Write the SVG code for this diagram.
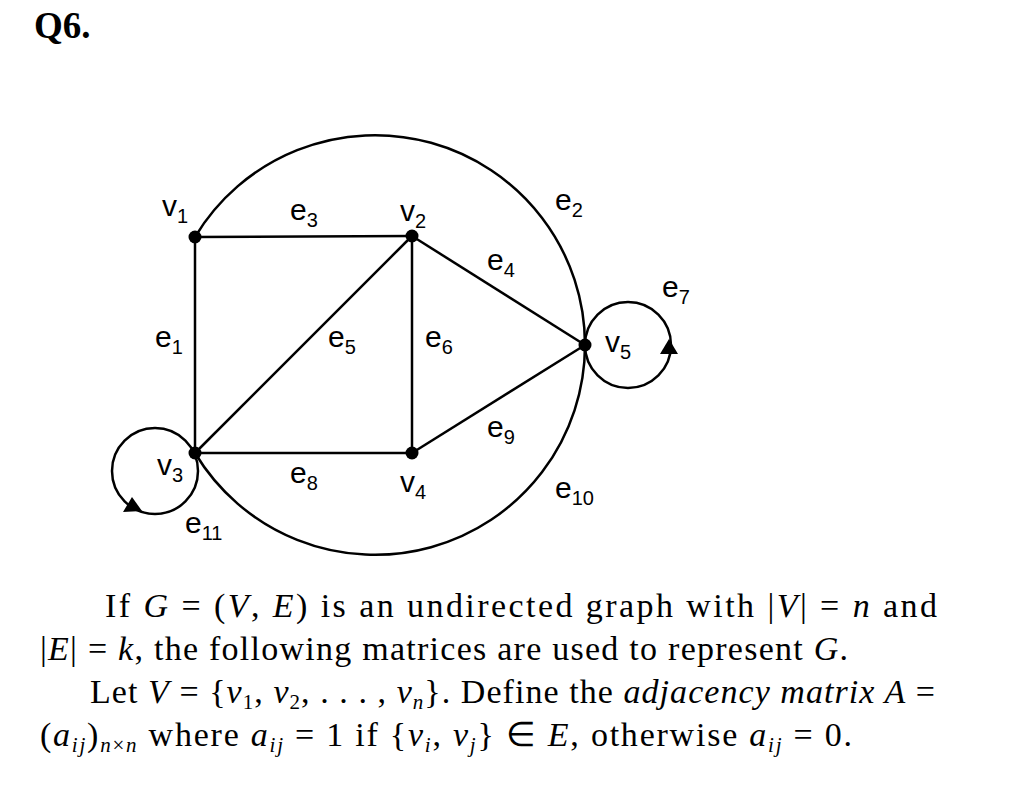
<svg xmlns="http://www.w3.org/2000/svg" width="1024" height="792" viewBox="0 0 1024 792">
<style>
.edge{fill:none;stroke:#000;stroke-width:2.5}
.node{fill:#000}
.lbl{font-family:"Liberation Sans",Arial,sans-serif;font-size:30px;fill:#000}
.sub{font-size:20px}
.para{font-family:"Liberation Serif","Times New Roman",serif;font-size:34px;fill:#000}
.it{font-style:italic}
.ps{font-size:21px}
.title{font-family:"Liberation Serif","Times New Roman",serif;font-size:37px;font-weight:bold;fill:#000}
</style>
<rect width="1024" height="792" fill="#fff"/>
<text class="title" x="34" y="38">Q6.</text>
<g id="connectors">
<line class="edge" x1="195" y1="237" x2="412" y2="236"/>
<line class="edge" x1="195" y1="237" x2="195" y2="453"/>
<line class="edge" x1="412" y1="236" x2="195" y2="453"/>
<line class="edge" x1="412" y1="236" x2="412" y2="453"/>
<line class="edge" x1="412" y1="236" x2="585" y2="345"/>
<line class="edge" x1="195" y1="453" x2="412" y2="453"/>
<line class="edge" x1="412" y1="453" x2="585" y2="345"/>
<path class="edge" d="M195,237 A210,210 0 0 1 585,345"/>
<path class="edge" d="M585,345 A210,210 0 0 1 195,453"/>
<circle class="edge" cx="628" cy="345" r="43"/>
<circle class="edge" cx="155" cy="471" r="43"/>
<polygon points="669,339 660,354 678,354" fill="#000"/>
<polygon points="132,497 123,512 142,511" fill="#000"/>
</g>
<g id="v1"><circle class="node" cx="195" cy="237" r="6.5"/><text class="lbl" x="162" y="216">v<tspan class="sub" dy="7">1</tspan></text></g>
<g id="v2"><circle class="node" cx="412" cy="236" r="6.5"/><text class="lbl" x="400" y="221">v<tspan class="sub" dy="7">2</tspan></text></g>
<g id="v3"><circle class="node" cx="195" cy="453" r="6.5"/><text class="lbl" x="157" y="475">v<tspan class="sub" dy="7">3</tspan></text></g>
<g id="v4"><circle class="node" cx="412" cy="453" r="6.5"/><text class="lbl" x="400" y="492">v<tspan class="sub" dy="7">4</tspan></text></g>
<g id="v5"><circle class="node" cx="585" cy="345" r="6.5"/><text class="lbl" x="605" y="352">v<tspan class="sub" dy="7">5</tspan></text></g>
<g id="edge-labels">
<text class="lbl" x="155" y="347">e<tspan class="sub" dy="7">1</tspan></text>
<text class="lbl" x="555" y="210">e<tspan class="sub" dy="7">2</tspan></text>
<text class="lbl" x="290" y="220">e<tspan class="sub" dy="7">3</tspan></text>
<text class="lbl" x="487" y="270">e<tspan class="sub" dy="7">4</tspan></text>
<text class="lbl" x="328" y="347">e<tspan class="sub" dy="7">5</tspan></text>
<text class="lbl" x="425" y="347">e<tspan class="sub" dy="7">6</tspan></text>
<text class="lbl" x="662" y="297">e<tspan class="sub" dy="7">7</tspan></text>
<text class="lbl" x="290" y="483">e<tspan class="sub" dy="7">8</tspan></text>
<text class="lbl" x="487" y="437">e<tspan class="sub" dy="7">9</tspan></text>
<text class="lbl" x="555" y="498">e<tspan class="sub" dy="7">10</tspan></text>
<text class="lbl" x="185" y="533">e<tspan class="sub" dy="7">11</tspan></text>
</g>
<g id="paragraph">
<text class="para" x="105" y="617" textLength="832" lengthAdjust="spacing">If <tspan class="it">G</tspan> = (<tspan class="it">V</tspan>, <tspan class="it">E</tspan>) is an undirected graph with |<tspan class="it">V</tspan>| = <tspan class="it">n</tspan> and</text>
<text class="para" x="40" y="660" textLength="808" lengthAdjust="spacing">|<tspan class="it">E</tspan>| = <tspan class="it">k</tspan>, the following matrices are used to represent <tspan class="it">G</tspan>.</text>
<text class="para" x="90" y="703" textLength="845" lengthAdjust="spacing">Let <tspan class="it">V</tspan> = {<tspan class="it">v</tspan><tspan class="ps" dy="6">1</tspan><tspan dy="-6">, </tspan><tspan class="it">v</tspan><tspan class="ps" dy="6">2</tspan><tspan dy="-6">, . . . , </tspan><tspan class="it">v</tspan><tspan class="ps it" dy="6">n</tspan><tspan dy="-6">}. Define the </tspan><tspan class="it">adjacency matrix A</tspan> =</text>
<text class="para" x="40" y="746" textLength="812" lengthAdjust="spacing">(<tspan class="it">a</tspan><tspan class="ps it" dy="6">ij</tspan><tspan dy="-6">)</tspan><tspan class="ps it" dy="6">n</tspan><tspan class="ps">×</tspan><tspan class="ps it">n</tspan><tspan dy="-6"> where </tspan><tspan class="it">a</tspan><tspan class="ps it" dy="6">ij</tspan><tspan dy="-6"> = 1 if {</tspan><tspan class="it">v</tspan><tspan class="ps it" dy="6">i</tspan><tspan dy="-6">, </tspan><tspan class="it">v</tspan><tspan class="ps it" dy="6">j</tspan><tspan dy="-6">} ∈ </tspan><tspan class="it">E</tspan>, otherwise <tspan class="it">a</tspan><tspan class="ps it" dy="6">ij</tspan><tspan dy="-6"> = 0.</tspan></text>
</g>
</svg>
